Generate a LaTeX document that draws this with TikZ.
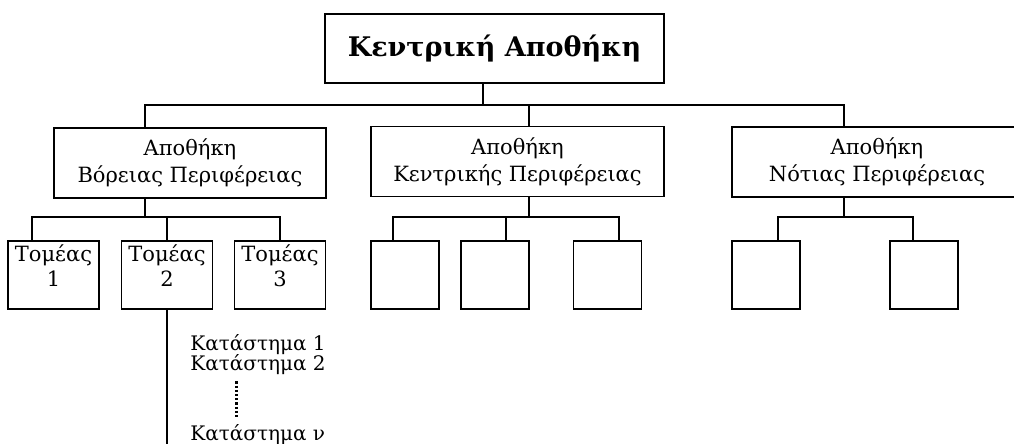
\documentclass[tikz,border=0pt]{standalone}
\usepackage{fontspec}
\setmainfont{DejaVu Serif}
\usetikzlibrary{positioning}
\tikzset{
	depot/.style={draw, rectangle, line width=0.9pt, align=center, inner sep=2pt},
	mainbox/.style={depot, minimum width=169.5pt, minimum height=34.5pt, font=\bfseries\fontsize{13.5}{15}\selectfont},
	region/.style={depot, minimum height=35pt, font=\fontsize{10.5}{13.5}\selectfont},
	sector/.style={draw, rectangle, line width=0.9pt, minimum width=45.5pt, minimum height=34pt},
	sectortext/.style={anchor=north, align=center, inner sep=2pt, font=\fontsize{10.5}{12.5}\selectfont},
	shop/.style={draw, rectangle, line width=0.9pt, minimum width=34pt, minimum height=34pt},
	store/.style={anchor=west, inner sep=0pt, font=\fontsize{10}{11}\selectfont},
	link/.style={line width=0.9pt},
}
\begin{document}
\begin{tikzpicture}[x=0.5pt, y=-0.5pt]
	\useasboundingbox (0,0) rectangle (1014,444);
	\clip (0,0) rectangle (1014,444);
	
	\node (top) [mainbox] at (494.5,48.5) {Κεντρική Αποθήκη};
	
	\node (nord) [region, minimum width=136pt] at (190,163) {Αποθήκη\\Βόρειας Περιφέρειας};
	\node (mitte) [region, minimum width=146.5pt] at (517.5,161.5) {Αποθήκη\\Κεντρικής Περιφέρειας};
	\node (sued) [region, minimum width=145pt] at (877,162) {Αποθήκη\\Νότιας Περιφέρειας};
	
	% sectors of the northern region
	\node (t1) [sector, label={[sectortext]north:Τομέας\\1}] at (53.5,275) {};
	\node (t2) [sector, label={[sectortext]north:Τομέας\\2}] at (167,275) {};
	\node (t3) [sector, label={[sectortext]north:Τομέας\\3}] at (280,275) {};
	
	% empty boxes
	\node (c1) [shop] at (405,275) {};
	\node (c2) [shop] at (495,275) {};
	\node (c3) [shop] at (607.5,275) {};
	\node (s1) [shop] at (766,275) {};
	\node (s2) [shop] at (924,275) {};
	
	% shops
	\node (k1) [store] at (190,345) {Κατάστημα 1};
	\node (k2) [store] at (190,365) {Κατάστημα 2};
	\node (kn) [store] at (190,435) {Κατάστημα ν};
	\coordinate (dots) at (236,0);
	\coordinate (foot) at (167,444);
	
	% top level
	\coordinate (b0) at (483,105);
	\coordinate (nN) at ([xshift=-22.5pt]nord.north);
	\coordinate (mN) at ([xshift=5.75pt]mitte.north);
	\coordinate (sN) at ([xshift=-16.5pt]sued.north);
	\begin{scope}[link]
		\draw (top.south -| b0) -- (b0);
		\draw (nN) |- (b0) -| (sN);
		\draw (mN) -- (mN |- b0);
	\end{scope}
	
	% second level
	\coordinate (bN) at (145,217);
	\coordinate (bC) at (529,217);
	\coordinate (bS) at (844,217);
	\coordinate (c2N) at ([xshift=5.5pt]c2.north);
	\begin{scope}[link]
		\draw (nord.south -| nN) -- (bN);
		\draw ([xshift=-10.75pt]t1.north) |- (bN) -| (t3.north);
		\draw (t2.north) -- (t2.north |- bN);
		
		\draw (mitte.south -| mN) -- (bC);
		\draw ([xshift=-6pt]c1.north) |- (bC) -| ([xshift=5.75pt]c3.north);
		\draw (c2N) -- (c2N |- bC);
		
		\draw (sued.south -| sN) -- (bS);
		\draw ([xshift=6pt]s1.north) |- (bS) -| ([xshift=-5.5pt]s2.north);
		
		\draw (t2.south) -- (foot);
	\end{scope}
	\draw [dash pattern=on 1.1pt off 1pt, line width=1.5pt, shorten <=3pt, shorten >=3pt] (k2.south -| dots) -- (kn.north -| dots);
\end{tikzpicture}
\end{document}
